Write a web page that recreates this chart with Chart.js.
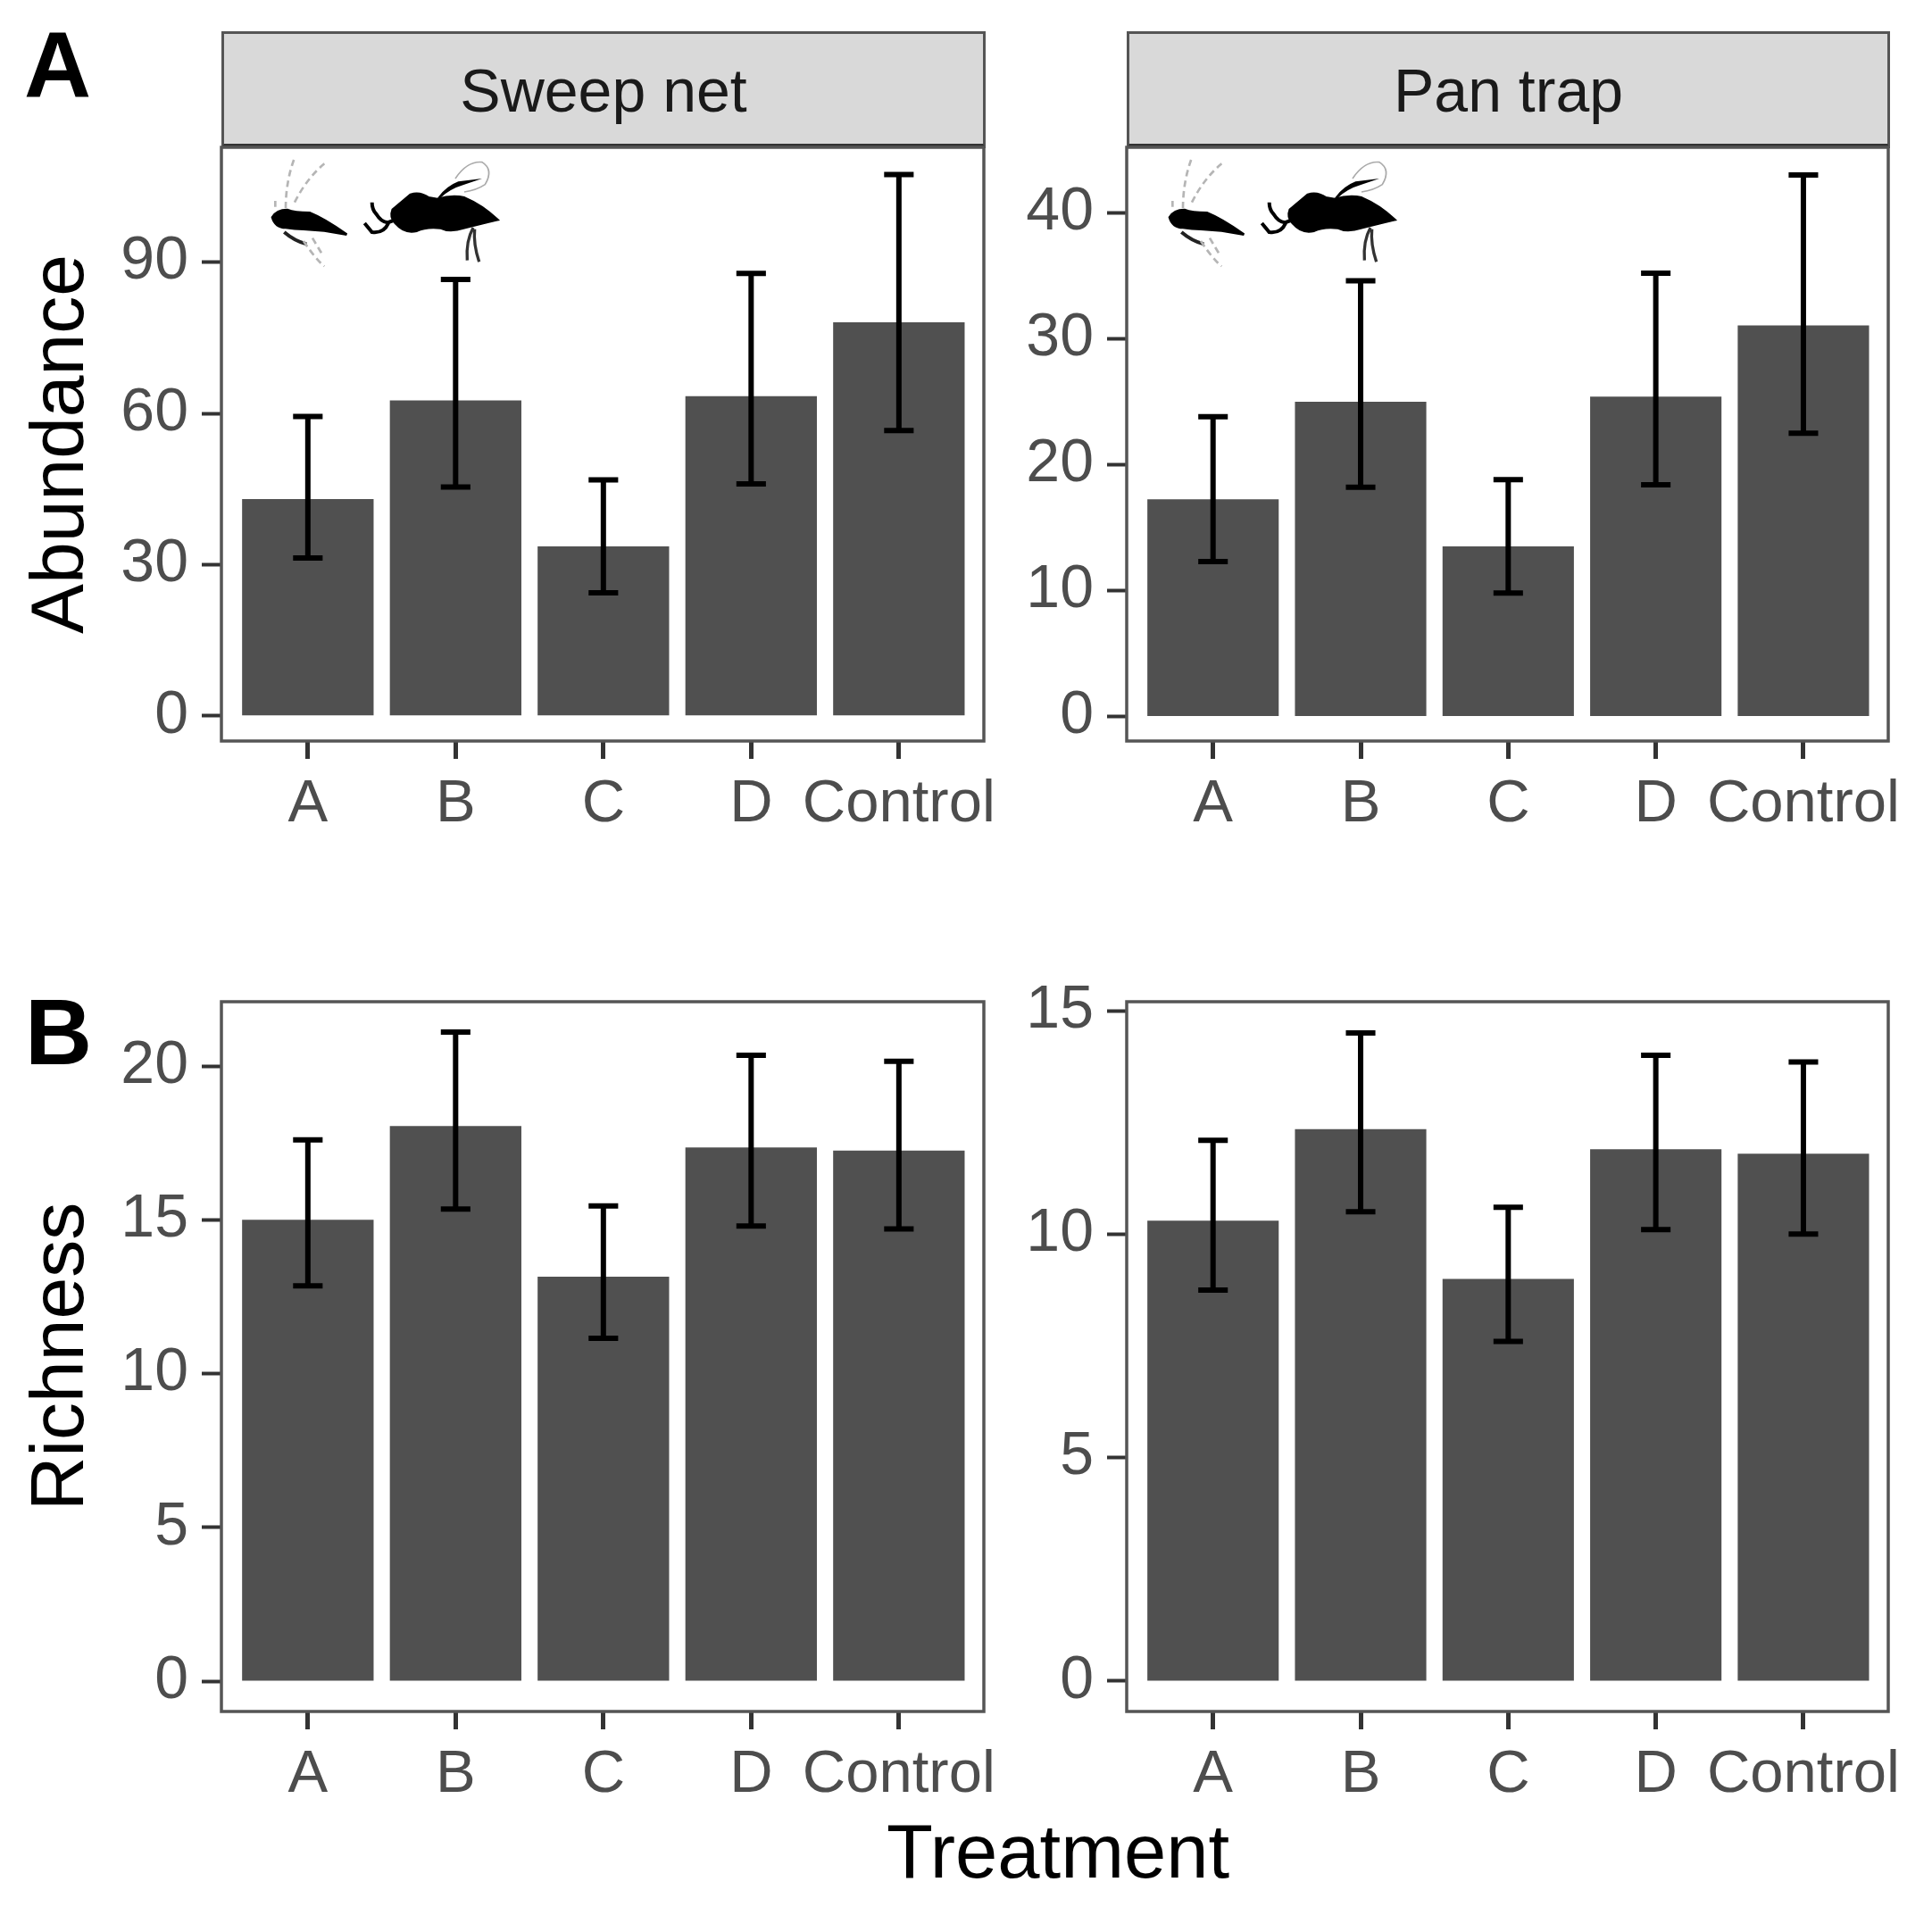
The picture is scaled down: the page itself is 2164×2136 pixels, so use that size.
<!DOCTYPE html>
<html>
<head>
<meta charset="utf-8">
<title>Abundance and richness by treatment</title>
<script src="https://cdn.jsdelivr.net/npm/chart.js@4"></script>
<style>
    body { margin: 0; background: #fff; font-family: "Liberation Sans", Arial, sans-serif; }
    #page { position: relative; width: 2164px; height: 2136px; overflow: hidden; }
    canvas { position: absolute; }
    .strip {
        position: absolute; top: 35px; height: 131px; box-sizing: border-box;
        background: #d9d9d9; border: 3px solid #555; border-bottom: 5px solid #333;
        text-align: center; font-size: 68px; line-height: 126px; color: #1a1a1a;
    }
    .letter { position: absolute; font-weight: bold; font-size: 104px; line-height: 100px; color: #000; }
    #xtitle { position: absolute; left: 985px; width: 400px; top: 2024px; text-align: center; font-size: 85px; line-height: 100px; color: #000; }
    .bug { position: absolute; width: 300px; height: 160px; filter: blur(0.7px); }
</style>
</head>
<body>
<div id="page">
    <div class="strip" style="left:248px;width:856px;">Sweep net</div>
    <div class="strip" style="left:1262px;width:855px;">Pan trap</div>
    <div class="letter" style="left:27px;top:22px;">A</div>
    <div class="letter" style="left:28px;top:1106px;">B</div>
    <div id="xtitle">Treatment</div>

    <canvas id="sweepAbundance" style="z-index:1"></canvas>
    <canvas id="panAbundance" style="z-index:1"></canvas>
    <canvas id="sweepRichness" style="z-index:1"></canvas>
    <canvas id="panRichness" style="z-index:1"></canvas>

    <!-- wasp silhouettes, pasted on the top panels like in the figure -->
    <svg class="bug" style="left:280px;top:160px;z-index:2" viewBox="0 0 900 480"><use href="#wasps"/></svg>
    <svg class="bug" style="left:1285px;top:160px;z-index:2" viewBox="0 0 900 480"><use href="#wasps"/></svg>
    <svg width="0" height="0" style="position:absolute">
        <defs>
            <g id="wasps">
                <path d="M75,250 Q90,225 125,225 Q150,235 200,235 Q250,255 325,308 L250,295 L180,290 Q150,290 120,285 Q85,285 75,250Z" fill="#000" stroke="#000" stroke-width="8"/>
                <path d="M115,300 Q150,330 190,340" stroke="#222" stroke-width="12" fill="none"/>
                <path d="M120,220 Q120,130 150,50 M150,200 Q190,120 250,70 M85,215 L85,195 M180,330 Q220,390 250,415 M210,320 L240,370" stroke="#b5b5b5" stroke-width="8" stroke-dasharray="22 14" fill="none"/>
                <path d="M480,225 Q510,200 540,175 Q570,165 600,185 L630,190 Q680,175 720,185 Q780,210 830,258 Q780,270 720,285 Q670,300 640,285 Q590,280 560,295 Q520,305 490,270 Q470,250 480,225Z" fill="#000" stroke="#000" stroke-width="10"/>
                <path d="M490,258 L462,268 Q440,265 425,240 Q410,225 410,200 M465,270 Q450,305 410,300 L385,270" stroke="#000" stroke-width="12" fill="none"/>
                <path d="M630,185 Q660,145 700,130 L780,120 L720,140 Q670,155 640,185Z" fill="#000"/>
                <path d="M690,120 Q730,60 780,65 Q820,90 790,140 Q760,160 720,165" stroke="#aaa" stroke-width="5" fill="none"/>
                <path d="M750,285 Q725,330 730,395 M755,290 Q750,340 770,400" stroke="#333" stroke-width="10" fill="none"/>
            </g>
        </defs>
    </svg>
</div>

<script>
// --- data ---
const categories = ['A', 'B', 'C', 'D', 'Control'];
const categoryPositions = [1, 2, 3, 4, 5];

const sweepAbundanceMean = [43, 62.6, 33.6, 63.4, 78.1];
const sweepAbundanceUpper = [59.4, 86.6, 46.8, 87.8, 107.4];
const sweepAbundanceLower = [31.3, 45.4, 24.4, 46, 56.6];
const sweepAbundanceTicks = [0, 30, 60, 90];

const panAbundanceMean = [17.25, 25, 13.5, 25.4, 31.05];
const panAbundanceUpper = [23.8, 34.6, 18.8, 35.2, 43];
const panAbundanceLower = [12.3, 18.2, 9.8, 18.4, 22.5];
const panAbundanceTicks = [0, 10, 20, 30, 40];

const sweepRichnessMean = [15, 18.05, 13.15, 17.35, 17.25];
const sweepRichnessUpper = [17.6, 21.1, 15.45, 20.35, 20.15];
const sweepRichnessLower = [12.85, 15.35, 11.15, 14.8, 14.7];
const sweepRichnessTicks = [0, 5, 10, 15, 20];

const panRichnessMean = [10.3, 12.35, 9, 11.9, 11.8];
const panRichnessUpper = [12.1, 14.5, 10.6, 14, 13.85];
const panRichnessLower = [8.75, 10.5, 7.6, 10.1, 10];
const panRichnessTicks = [0, 5, 10, 15];

// --- small plugins ---
const errorBars = {
    id: 'errorBars',
    afterDatasetsDraw(chart, args, opts) {
        const { ctx, scales: { x, y } } = chart;
        ctx.save();
        ctx.strokeStyle = '#000';
        ctx.lineWidth = 6;
        categoryPositions.forEach((pos, i) => {
            const up = y.getPixelForValue(opts.upper[i]);
            const low = y.getPixelForValue(opts.lower[i]);
            const mid = x.getPixelForValue(pos);
            const capL = x.getPixelForValue(pos - 0.1);
            const capR = x.getPixelForValue(pos + 0.1);
            ctx.beginPath();
            ctx.moveTo(mid, up);
            ctx.lineTo(mid, low);
            ctx.moveTo(capL, up);
            ctx.lineTo(capR, up);
            ctx.moveTo(capL, low);
            ctx.lineTo(capR, low);
            ctx.stroke();
        });
        ctx.restore();
    }
};

const panelFrame = {
    id: 'panelFrame',
    afterDraw(chart) {
        const { ctx, chartArea: a } = chart;
        ctx.save();
        ctx.strokeStyle = '#555';
        ctx.lineWidth = 3.5;
        ctx.strokeRect(a.left, a.top, a.right - a.left, a.bottom - a.top);
        ctx.restore();
    }
};

// --- one panel per canvas, placed so that the plot area lands on the given box ---
function drawPanel(id, box, mean, upper, lower, ticks, yMin, yMax, yTitle) {
    const axisWidth = yTitle ? box.left : 150;
    const padTop = 60;
    const canvas = document.getElementById(id);
    const width = box.right - box.left + axisWidth + 58;
    const height = box.bottom - box.top + padTop + 130;
    canvas.width = width;
    canvas.height = height;
    canvas.style.left = (box.left - axisWidth) + 'px';
    canvas.style.top = (box.top - padTop) + 'px';

    new Chart(canvas, {
        type: 'bar',
        data: {
            datasets: [{
                data: categoryPositions.map((pos, i) => ({ x: pos, y: mean[i] })),
                backgroundColor: '#505050',
                borderWidth: 0,
                categoryPercentage: 0.89,
                barPercentage: 1
            }]
        },
        options: {
            responsive: false,
            animation: false,
            devicePixelRatio: 1,
            layout: { padding: { top: padTop, right: 58, bottom: 0, left: 0 } },
            plugins: {
                legend: { display: false },
                tooltip: { enabled: false },
                errorBars: { upper, lower }
            },
            scales: {
                x: {
                    type: 'linear',
                    min: 0.415,
                    max: 5.575,
                    offset: false,
                    afterBuildTicks: s => { s.ticks = categoryPositions.map(v => ({ value: v })); },
                    afterFit: s => { s.height = 130; },
                    grid: { offset: false, drawOnChartArea: false, drawTicks: true, tickLength: 20, tickWidth: 5, tickColor: '#333' },
                    border: { display: false },
                    ticks: {
                        autoSkip: false,
                        maxRotation: 0,
                        minRotation: 0,
                        padding: 11,
                        color: '#4d4d4d',
                        font: { family: 'Liberation Sans', size: 67 },
                        callback: v => categories[v - 1]
                    }
                },
                y: {
                    min: yMin,
                    max: yMax,
                    afterBuildTicks: s => { s.ticks = ticks.map(v => ({ value: v })); },
                    afterFit: s => { s.width = axisWidth; },
                    grid: { drawOnChartArea: false, drawTicks: true, tickLength: 22, tickWidth: 4, tickColor: '#333' },
                    border: { display: false },
                    title: {
                        display: !!yTitle,
                        text: yTitle,
                        color: '#000',
                        font: { family: 'Liberation Sans', size: 84 },
                        padding: { top: 19, bottom: 0 }
                    },
                    ticks: {
                        padding: 15,
                        color: '#4d4d4d',
                        font: { family: 'Liberation Sans', size: 68 }
                    }
                }
            }
        },
        plugins: [errorBars, panelFrame]
    });
}

drawPanel('sweepAbundance', { left: 248, right: 1102, top: 165, bottom: 830 },
    sweepAbundanceMean, sweepAbundanceUpper, sweepAbundanceLower, sweepAbundanceTicks, -5, 112.8, 'Abundance');
drawPanel('panAbundance', { left: 1262, right: 2115, top: 165, bottom: 830 },
    panAbundanceMean, panAbundanceUpper, panAbundanceLower, panAbundanceTicks, -1.95, 45.2);
drawPanel('sweepRichness', { left: 248, right: 1102, top: 1122, bottom: 1917 },
    sweepRichnessMean, sweepRichnessUpper, sweepRichnessLower, sweepRichnessTicks, -0.985, 22.09, 'Richness');
drawPanel('panRichness', { left: 1262, right: 2115, top: 1122, bottom: 1917 },
    panRichnessMean, panRichnessUpper, panRichnessLower, panRichnessTicks, -0.68, 15.2);
</script>
</body>
</html>
